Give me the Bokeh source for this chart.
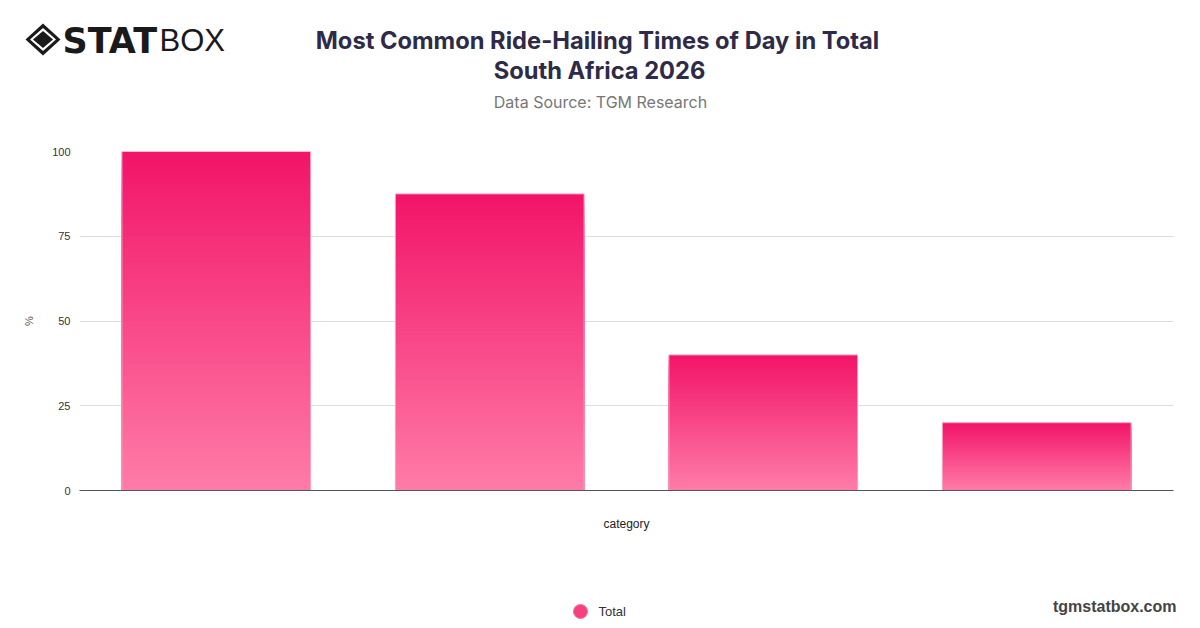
from bokeh.plotting import figure
from bokeh.layouts import column
from bokeh.models import Range1d, FixedTicker
from bokeh.core.properties import value
from bokeh.embed import file_html
from bokeh.resources import INLINE

# ---- data ----
categories = ["Evening", "Afternoon", "Morning", "Night"]
values = [100, 87.5, 40, 20]
series_name = "Total"
y_ticks = [0, 25, 50, 75, 100]
title_lines = ["Most Common Ride-Hailing Times of Day in Total", "South Africa 2026"]
subtitle = "Data Source: TGM Research"
brand = "tgmstatbox.com"

TOP = (242, 20, 104)
BOT = (255, 124, 168)

def mix(t):
    r = [round(TOP[i] + (BOT[i] - TOP[i]) * t) for i in range(3)]
    return "#%02x%02x%02x" % tuple(r)

W = 1200

# ---------------- header ----------------
H1 = 140
hdr = figure(width=W, height=H1, x_range=Range1d(0, W), y_range=Range1d(H1, 0),
             x_axis_type=None, y_axis_type=None, output_backend="svg", toolbar_location=None,
             min_border=0, frame_align=False)
hdr.outline_line_color = None
hdr.grid.visible = False

cx, cy = 42.5, 39
for (hw, hh, col) in [(17.5, 16, "#1a1a1a"), (13, 11.5, "white"), (10, 8.5, "#1a1a1a")]:
    hdr.patch(x=[cx - hw, cx, cx + hw, cx], y=[cy, cy - hh, cy, cy + hh],
              fill_color=col, line_color=None)
hdr.text(x=[62], y=[40], text=["STAT"], text_font=value("DejaVu Sans"), text_font_style="bold",
         text_font_size="35px", text_color="#1a1a1a", text_baseline="middle", text_align="left")
hdr.text(x=[159], y=[40], text=["BOX"], text_font=value("Liberation Sans"),
         text_font_size="31px", text_color="#1a1a1a", text_baseline="middle", text_align="left")

hdr.text(x=[597, 599], y=[40, 70], text=title_lines, text_font=value("Inter"), text_font_style="bold",
         text_font_size="23.7px", text_color="#2e2b48", text_baseline="middle", text_align="center")
hdr.text(x=[600], y=[101], text=[subtitle], text_font=value("Inter"),
         text_font_size="16px", text_color="#777777", text_baseline="middle", text_align="center")

# ---------------- main chart ----------------
H2 = 420
p = figure(x_range=categories, y_range=Range1d(0, 100), width=W, height=H2,
           output_backend="svg", toolbar_location=None, frame_align=False,
           min_border_left=79, min_border_right=27, min_border_top=11, min_border_bottom=70)
p.outline_line_color = None

# gradient bars: nested bars, tallest (darkest top band) first
N = 80
xs, tops, cols = [], [], []
for k in range(N):
    t = k / N
    for c, v in zip(categories, values):
        xs.append(c)
        tops.append(v * (1 - t))
        cols.append(mix(t + 0.5 / N))
p.vbar(x=xs, top=tops, bottom=0, width=0.69, fill_color=cols, line_color=None)
p.vbar(x=categories, top=values, width=0.69, fill_color=None, line_color="#f9a6c6", line_width=1)

p.yaxis.ticker = FixedTicker(ticks=y_ticks)
p.yaxis.axis_line_color = None
p.yaxis.major_tick_line_color = None
p.yaxis.minor_tick_line_color = None
p.yaxis.major_tick_out = 0
p.yaxis.major_tick_in = 0
p.yaxis.major_label_text_font = "Liberation Sans"
p.yaxis.major_label_text_font_size = "11px"
p.yaxis.major_label_text_color = "#333333"
p.yaxis.major_label_standoff = 9
p.yaxis.axis_label = "%"
p.yaxis.axis_label_text_font = "Liberation Sans"
p.yaxis.axis_label_text_font_style = "normal"
p.yaxis.axis_label_text_font_size = "11px"
p.yaxis.axis_label_text_color = "#555555"
p.yaxis.axis_label_standoff = 14

p.xaxis.major_label_text_color = None
p.xaxis.major_label_text_font_size = "11px"
p.xaxis.major_tick_line_color = None
p.xaxis.minor_tick_line_color = None
p.xaxis.axis_line_color = "#555555"
p.xaxis.axis_line_width = 1.2
p.xaxis.axis_label = "category"
p.xaxis.axis_label_text_font = "Liberation Sans"
p.xaxis.axis_label_text_font_style = "normal"
p.xaxis.axis_label_text_font_size = "12px"
p.xaxis.axis_label_text_color = "#222222"
p.xaxis.axis_label_standoff = 20

p.xgrid.grid_line_color = None
p.ygrid.grid_line_color = "#dddddd"
p.ygrid.grid_line_width = 1

# ---------------- footer ----------------
H3 = 628 - H1 - H2
ftr = figure(width=W, height=H3, x_range=Range1d(0, W), y_range=Range1d(H1 + H2 + H3, H1 + H2),
             x_axis_type=None, y_axis_type=None, output_backend="svg", toolbar_location=None,
             min_border=0, frame_align=False)
ftr.outline_line_color = None
ftr.grid.visible = False
ftr.scatter(x=[580], y=[611], size=14, fill_color="#f5417f", line_color="#f7709f", line_width=1)
ftr.text(x=[598], y=[611], text=[series_name], text_font=value("Liberation Sans"),
         text_font_size="13px", text_color="#333333", text_baseline="middle", text_align="left")
ftr.text(x=[1176], y=[606], text=[brand], text_font=value("Liberation Sans"), text_font_style="bold",
         text_font_size="16px", text_color="#444444", text_baseline="middle", text_align="right")

layout = column(hdr, p, ftr, spacing=0)
open("out.html", "w").write(file_html(layout, INLINE))
